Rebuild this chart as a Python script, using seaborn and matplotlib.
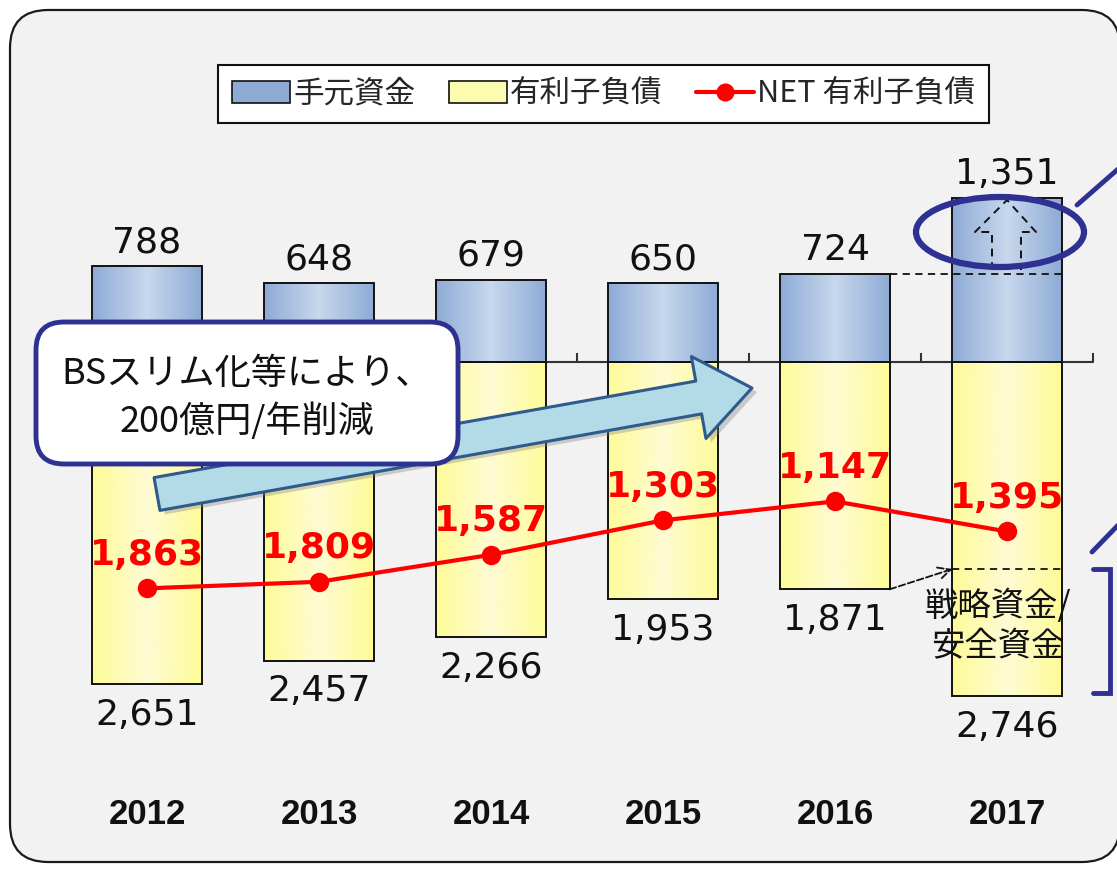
import numpy as np
import pandas as pd
import matplotlib
matplotlib.use("Agg")
import matplotlib.pyplot as plt
import seaborn as sns
import matplotlib.colors as mcolors
from matplotlib.patches import FancyBboxPatch, Ellipse, Patch
from matplotlib.lines import Line2D
from matplotlib.transforms import IdentityTransform
from matplotlib.font_manager import FontProperties

# ---------------- data ----------------
years = ["2012", "2013", "2014", "2015", "2016", "2017"]
cash = [788, 648, 679, 650, 724, 1351]            # 手元資金
debt = [2651, 2457, 2266, 1953, 1871, 2746]       # 有利子負債
net_debt = [1863, 1809, 1587, 1303, 1147, 1395]   # NET 有利子負債
legend_labels = ["手元資金", "有利子負債", "NET 有利子負債"]
callout_text = "BSスリム化等により、\n200億円/年削減"
strategy_text = "戦略資金/\n安全資金"

# ---------------- style ----------------
sns.set_theme(style="white")
plt.rcParams['font.family'] = ['DejaVu Sans', 'Noto Sans CJK JP']
CJK = ['Noto Sans CJK JP', 'DejaVu Sans']
NAVY = '#2e3192'
BLUE_EDGE, BLUE_MID = '#8eabd6', '#c8d8ed'
YEL_EDGE, YEL_MID = '#fdfb98', '#fffbd4'

W, H = 1117, 869
fig = plt.figure(figsize=(W / 100, H / 100), dpi=100)
fig.patch.set_facecolor('white')
I = IdentityTransform()


def P(x, y):
    """image pixel (top-left origin) -> display pixel"""
    return (x, H - y)


# outer rounded panel
panel = FancyBboxPatch(P(10, 862), 1110, 852, boxstyle="round,pad=0,rounding_size=38",
                       transform=I, fc='#f2f2f2', ec='#1a1a1a', lw=1.6, zorder=-1)
fig.add_artist(panel)

# axes mapped so category i sits at pixel 147+172*i, zero at y=362
X0, DX, ZERO_PY, S = 147, 172, 362, 0.1215
ax = fig.add_axes([0, 0, 1, 1])
ax.patch.set_visible(False)

df = pd.DataFrame({"year": years, "cash": cash, "debt_neg": [-d for d in debt]})
sns.barplot(data=df, x="year", y="cash", order=years, color=BLUE_MID, saturation=1,
            width=0.635, edgecolor='#111111', linewidth=1.4, ax=ax, zorder=2)
sns.barplot(data=df, x="year", y="debt_neg", order=years, color=YEL_MID, saturation=1,
            width=0.635, edgecolor='#111111', linewidth=1.4, ax=ax, zorder=2)


def gradient_fill(bars, edge_col, mid_col):
    cmap = mcolors.LinearSegmentedColormap.from_list('g', [edge_col, mid_col, edge_col])
    grad = np.linspace(0, 1, 128).reshape(1, -1)
    for p in bars:
        x, y = p.get_x(), p.get_y()
        w, h = p.get_width(), p.get_height()
        y0, y1 = min(y, y + h), max(y, y + h)
        im = ax.imshow(grad, extent=[x, x + w, y0, y1], aspect='auto', cmap=cmap,
                       origin='lower', zorder=1.9, interpolation='bicubic')
        im.set_clip_path(p)
        p.set_facecolor('none')


bars = list(ax.patches)
gradient_fill(bars[:6], BLUE_EDGE, BLUE_MID)
gradient_fill(bars[6:12], YEL_EDGE, YEL_MID)

pos = np.arange(len(years))

# zero axis line with upward ticks at category boundaries
ax.plot([-0.5, len(years) - 0.5], [0, 0], color='#333333', lw=1.5, zorder=1.5)
ax.vlines(np.arange(len(years) + 1) - 0.5, 0, 9 / S, color='#333333', lw=1.5, zorder=1.5)

# NET line
sns.lineplot(x=pos, y=[-v for v in net_debt], color='#ff0000', lw=3, marker='o',
             markersize=14, markeredgewidth=0, ax=ax, zorder=3, sort=False)

# value labels
for i, v in enumerate(cash):
    ax.annotate(f"{v:,}", (i, v), xytext=(0, 5), textcoords='offset points',
                ha='center', va='bottom', fontsize=26, color='#111111', zorder=6)
for i, v in enumerate(debt):
    ax.annotate(f"{v:,}", (i, -v), xytext=(0, -10), textcoords='offset points',
                ha='center', va='top', fontsize=26, color='#111111', zorder=6)
for i, v in enumerate(net_debt):
    ax.annotate(f"{v:,}", (i, -v), xytext=(0, 12), textcoords='offset points',
                ha='center', va='bottom', fontsize=26, fontweight='bold',
                color='#ff0000', zorder=6)

# year labels
for i, y in enumerate(years):
    ax.text(i, (ZERO_PY - 815) / S, y, ha='center', va='center', fontsize=25,
            family=['Liberation Sans'], fontweight='bold',
            color='#111111', zorder=6)

# dashed reference lines for 2017
bw = 0.635 / 2
ax.plot([4 + bw, 5 + bw], [cash[4], cash[4]], ls=(0, (4, 3)), color='#111111', lw=1.3, zorder=4)
strat_y = (ZERO_PY - 569) / S
ax.plot([5 - bw, 5 + bw], [strat_y, strat_y], ls=(0, (4, 3)), color='#111111', lw=1.3, zorder=4)
ax.annotate('', xy=(5 - bw, strat_y), xytext=(4 + bw, -debt[4]),
            arrowprops=dict(arrowstyle='->', ls='--', lw=1.3, color='#111111',
                            mutation_scale=22, shrinkA=0, shrinkB=0), zorder=4)

# hollow dashed up arrow inside 2017 cash bar
up = [(992, 270), (992, 232), (975, 232), (1007, 200), (1036, 232), (1021, 232), (1021, 270)]
fig.add_artist(Line2D([p[0] for p in up], [H - p[1] for p in up], transform=I,
                      color='#111111', lw=1.4, ls=(0, (4, 3)), zorder=4))

# big light-blue arrow with shadow
arrow_style = 'simple,head_length=1.3,head_width=2.0,tail_width=0.8'
ax.annotate('', xy=P(757, 392), xycoords='figure pixels', xytext=P(162, 498),
            textcoords='figure pixels',
            arrowprops=dict(arrowstyle=arrow_style, mutation_scale=30, fc='#7f7f7f',
                            ec='none', alpha=0.35, shrinkA=0, shrinkB=0), zorder=3.8)
ax.annotate('', xy=P(752, 388), xycoords='figure pixels', xytext=P(157, 494),
            textcoords='figure pixels',
            arrowprops=dict(arrowstyle=arrow_style, mutation_scale=30, fc='#b3dbe7',
                            ec='#2f5b8c', lw=2.2, shrinkA=0, shrinkB=0), zorder=4)

# callout box
callout = FancyBboxPatch(P(36, 464), 422, 142, boxstyle="round,pad=0,rounding_size=28",
                         transform=I, fc='white', ec=NAVY, lw=3.5, zorder=5)
fig.add_artist(callout)
fig.text(247, H - 398, callout_text, transform=I, ha='center', va='center',
         fontsize=26, family=CJK, linespacing=1.35, color='#111111', zorder=6)

# strategic funds text
fig.text(998, H - 627, strategy_text, transform=I, ha='center', va='center',
         fontsize=24, family=CJK, linespacing=1.2, color='#111111', zorder=6)

# navy highlight ellipse, connector lines and bracket
fig.add_artist(Ellipse(P(1000, 232), 168, 70, transform=I, fc='none', ec=NAVY, lw=4.5, zorder=6))
fig.add_artist(Line2D([1077, 1125], [H - 205, H - 163], transform=I, color=NAVY, lw=3.5, zorder=6))
fig.add_artist(Line2D([1092, 1125], [H - 552, H - 518], transform=I, color=NAVY, lw=3.5, zorder=6))
br = [(1093, 569), (1110, 569), (1110, 693), (1093, 693)]
fig.add_artist(Line2D([p[0] for p in br], [H - p[1] for p in br], transform=I,
                      color=NAVY, lw=3.5, zorder=6, solid_joinstyle='miter'))

# legend
handles = [Patch(fc=BLUE_EDGE, ec='#111111', lw=1.2),
           Patch(fc='#fdfcb0', ec='#111111', lw=1.2),
           Line2D([], [], color='#ff0000', lw=3, marker='o', markersize=13, markeredgewidth=0)]
leg = fig.legend(handles, legend_labels, loc='center', bbox_to_anchor=(603.5 / W, 1 - 94 / H),
                 ncol=3, prop=FontProperties(family=CJK, size=22), frameon=True,
                 fancybox=False, edgecolor='#111111', framealpha=1, facecolor='white',
                 handlelength=1.9, handleheight=0.7, handletextpad=0.1,
                 columnspacing=1.1, borderpad=0.45)
leg.get_frame().set_linewidth(1.5)

ax.set_xlim(-X0 / DX, (W - X0) / DX)
ax.set_ylim((ZERO_PY - H) / S, ZERO_PY / S)
ax.axis('off')

fig.savefig("out.png", dpi=100)
